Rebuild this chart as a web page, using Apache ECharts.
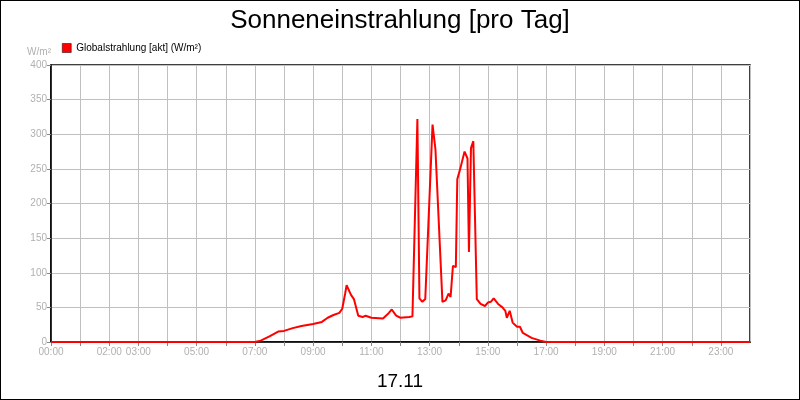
<!DOCTYPE html>
<html><head><meta charset="utf-8">
<script src="https://cdn.jsdelivr.net/npm/echarts@6/dist/echarts.min.js"></script>
<style>html,body{margin:0;padding:0;}#c{width:798px;height:398px;border:1px solid #000;}</style>
</head><body><div id="c"></div>
<script>
var hours = [0,7.0,7.2,7.5,7.8,8.0,8.3,8.6,9.0,9.3,9.5,9.7,9.9,10.0,10.1,10.15,10.3,10.4,10.55,10.7,10.8,11.0,11.4,11.6,11.7,11.85,12.0,12.3,12.41,12.58,12.65,12.75,12.85,13.1,13.2,13.44,13.55,13.65,13.72,13.8,13.9,13.95,14.05,14.2,14.3,14.35,14.42,14.5,14.55,14.62,14.75,14.9,15.0,15.1,15.2,15.35,15.5,15.6,15.65,15.75,15.85,16.0,16.1,16.2,16.5,16.8,17.0,24];
var values = [0,0,2,8,15,16,20,23,26,29,35,39,42,48,70,82,68,62,38,36,38,35,34,42,47,38,35,36,37,322,63,58,62,314,278,58,60,70,65,110,108,235,250,275,265,130,280,290,290,62,55,52,57,58,63,55,50,45,35,45,28,22,22,13,6,2,0,0];
var labeledHours = [0,2,3,5,7,9,11,13,15,17,19,21,23];
var yTicks = [0,50,100,150,200,250,300,350,400];
var chart = echarts.init(document.getElementById('c'));
var gray = '#b0b0b0';
chart.setOption({
  animation:false,
  backgroundColor:'#fff',
  title:[{text:'Sonneneinstrahlung [pro Tag]',left:'center',top:2,textStyle:{fontFamily:'Liberation Sans',fontSize:26,fontWeight:'normal',color:'#000'}},
         {text:'17.11',left:'center',top:366,textStyle:{fontFamily:'Liberation Sans',fontSize:19,fontWeight:'normal',color:'#000'}}],
  legend:{left:56,top:37,itemWidth:9,itemHeight:9,icon:'rect',itemGap:4,textStyle:{fontFamily:'Liberation Sans',fontSize:10,color:'#000'},
    data:[{name:'Globalstrahlung [akt] (W/m²)',itemStyle:{color:'#ff0000',borderColor:'#000',borderWidth:0.5}}]},
  grid:{left:50,right:49,top:64,bottom:57,show:true,borderColor:'#000',borderWidth:1.5},
  xAxis:{type:'value',min:0,max:24,interval:1,
    axisLine:{show:true,lineStyle:{color:'#000',width:1.5}},
    axisTick:{show:true,length:4,lineStyle:{color:'#888'}},
    splitLine:{show:true,lineStyle:{color:'#c0c0c0'}},
    axisLabel:{color:gray,fontFamily:'Liberation Sans',fontSize:10,margin:5,showMaxLabel:false,
      formatter:function(v){return labeledHours.indexOf(v)>=0?(v<10?'0':'')+v+':00':'';}}},
  yAxis:{type:'value',min:0,max:400,interval:50,name:'W/m²',nameLocation:'end',nameGap:8,
    nameTextStyle:{color:gray,fontFamily:'Liberation Sans',fontSize:10,align:'right',padding:[0,0,0,0]},
    axisLine:{show:true,lineStyle:{color:'#000',width:1.5}},
    axisTick:{show:true,length:4,lineStyle:{color:'#888'}},
    splitLine:{show:true,lineStyle:{color:'#c0c0c0'}},
    axisLabel:{color:gray,fontFamily:'Liberation Sans',fontSize:10,margin:4}},
  series:[{name:'Globalstrahlung [akt] (W/m²)',type:'line',showSymbol:false,color:'#ff0000',
    lineStyle:{color:'#ff0000',width:2},
    data:hours.map(function(h,i){return [h,values[i]];})}]
});
</script></body></html>
